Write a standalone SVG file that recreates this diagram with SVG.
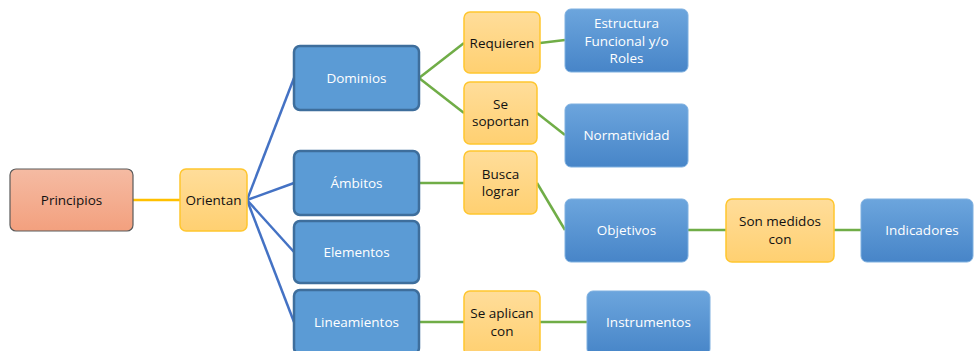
<svg xmlns="http://www.w3.org/2000/svg" width="974" height="351" viewBox="0 0 974 351">
<defs>
<linearGradient id="gBlue" x1="0" y1="0" x2="0" y2="1"><stop offset="0" stop-color="#6CA5DD"/><stop offset="1" stop-color="#4785C8"/></linearGradient>
<linearGradient id="gOrange" x1="0" y1="0" x2="0" y2="1"><stop offset="0" stop-color="#FFDD9A"/><stop offset="1" stop-color="#FFD071"/></linearGradient>
<linearGradient id="gRed" x1="0" y1="0" x2="0" y2="1"><stop offset="0" stop-color="#F5BBA3"/><stop offset="1" stop-color="#F3A07E"/></linearGradient>
</defs>
<style>
text{font-family:"Open Sans","Liberation Sans",sans-serif;font-size:13.5px;text-anchor:middle;dominant-baseline:central}
.dk{fill:#5B9BD5;stroke:#3E6E9C;stroke-width:2.5}
.bl{fill:url(#gBlue);stroke:#7EB0E0;stroke-width:1}
.or{fill:url(#gOrange);stroke:#FFC62E;stroke-width:1.5}
.rd{fill:url(#gRed);stroke:#5A5A5A;stroke-width:1.2}
.w{fill:#FFFFFF}
.k{fill:#111111}
.cb{stroke:#4472C4;stroke-width:2.5;fill:none}
.cg{stroke:#70AD47;stroke-width:2.5;fill:none}
.co{stroke:#FFC000;stroke-width:2.5;fill:none}
</style>
<g id="connectors">
<line class="co" x1="133" y1="200" x2="180" y2="200"/>
<line class="cb" x1="247" y1="200" x2="294" y2="78"/>
<line class="cb" x1="247" y1="200" x2="294" y2="183"/>
<line class="cb" x1="247" y1="200" x2="294" y2="252"/>
<line class="cb" x1="247" y1="200" x2="294" y2="322"/>
<line class="cg" x1="419" y1="78" x2="464" y2="43"/>
<line class="cg" x1="419" y1="78" x2="464" y2="113"/>
<line class="cg" x1="540" y1="43" x2="565" y2="40"/>
<line class="cg" x1="537" y1="113" x2="565" y2="135"/>
<line class="cg" x1="419" y1="183" x2="464" y2="183"/>
<line class="cg" x1="537" y1="183" x2="565" y2="230"/>
<line class="cg" x1="688" y1="230" x2="726" y2="230"/>
<line class="cg" x1="834" y1="230" x2="861" y2="230"/>
<line class="cg" x1="419" y1="322" x2="464" y2="322"/>
<line class="cg" x1="540" y1="322" x2="587" y2="322"/>
</g>
<g id="principios"><rect class="rd" x="10" y="169" width="123" height="62" rx="6"/><text class="k" x="71.5" y="200">Principios</text></g>
<g id="orientan"><rect class="or" x="180" y="169" width="67" height="62" rx="6"/><text class="k" x="213.5" y="200">Orientan</text></g>
<g id="dominios"><rect class="dk" x="294" y="46" width="125" height="64" rx="6"/><text class="w" x="356.5" y="78">Dominios</text></g>
<g id="ambitos"><rect class="dk" x="294" y="151" width="125" height="64" rx="6"/><text class="w" x="356.5" y="183">Ámbitos</text></g>
<g id="elementos"><rect class="dk" x="294" y="221" width="125" height="62" rx="6"/><text class="w" x="356.5" y="252">Elementos</text></g>
<g id="lineamientos"><rect class="dk" x="294" y="290" width="125" height="64" rx="6"/><text class="w" x="356.5" y="322">Lineamientos</text></g>
<g id="requieren"><rect class="or" x="464" y="12" width="76" height="61" rx="6"/><text class="k" x="502" y="43">Requieren</text></g>
<g id="se-soportan"><rect class="or" x="464" y="82" width="73" height="62" rx="6"/><text class="k" x="500.5" y="104">Se</text><text class="k" x="500.5" y="121">soportan</text></g>
<g id="busca-lograr"><rect class="or" x="464" y="151" width="73" height="63" rx="6"/><text class="k" x="500.5" y="174">Busca</text><text class="k" x="500.5" y="191">lograr</text></g>
<g id="se-aplican"><rect class="or" x="464" y="291" width="76" height="64" rx="6"/><text class="k" x="502" y="313">Se aplican</text><text class="k" x="502" y="331">con</text></g>
<g id="estructura"><rect class="bl" x="565" y="9" width="123" height="63" rx="6"/><text class="w" x="626.5" y="23">Estructura</text><text class="w" x="626.5" y="41">Funcional y/o</text><text class="w" x="626.5" y="58">Roles</text></g>
<g id="normatividad"><rect class="bl" x="565" y="104" width="123" height="63" rx="6"/><text class="w" x="626.5" y="135">Normatividad</text></g>
<g id="objetivos"><rect class="bl" x="565" y="199" width="123" height="63" rx="6"/><text class="w" x="626.5" y="230">Objetivos</text></g>
<g id="son-medidos"><rect class="or" x="726" y="199" width="108" height="63" rx="6"/><text class="k" x="780" y="221">Son medidos</text><text class="k" x="780" y="239">con</text></g>
<g id="indicadores"><rect class="bl" x="861" y="199" width="112" height="63" rx="6"/><text class="w" x="922" y="230">Indicadores</text></g>
<g id="instrumentos"><rect class="bl" x="587" y="291" width="123" height="64" rx="6"/><text class="w" x="648.5" y="322">Instrumentos</text></g>
</svg>
